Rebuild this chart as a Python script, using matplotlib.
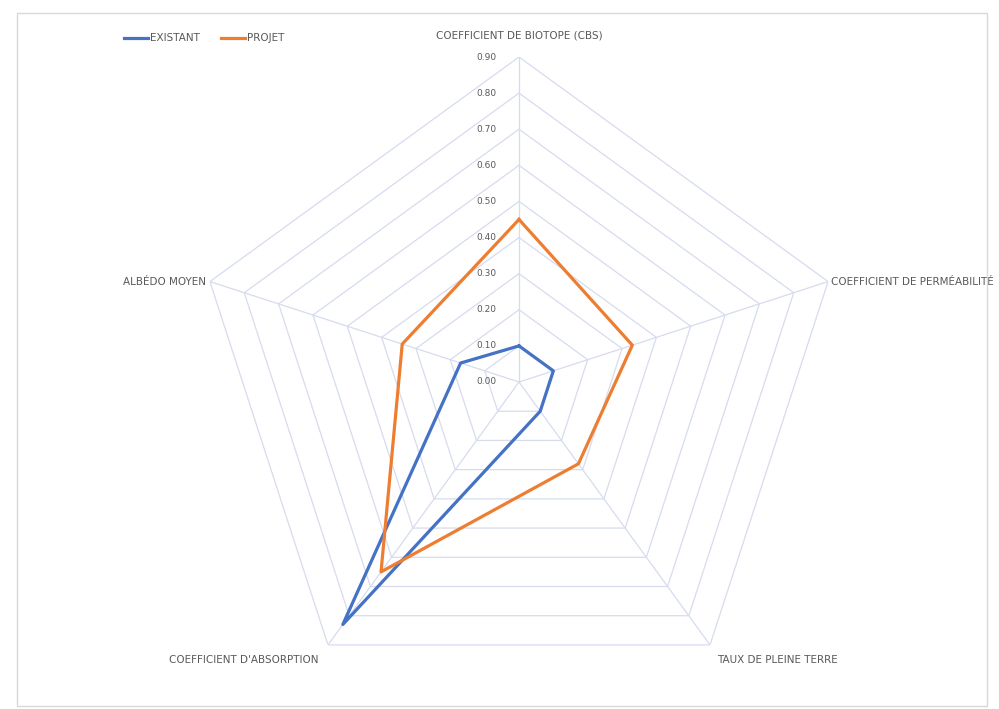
import numpy as np
import matplotlib
matplotlib.use("Agg")
import matplotlib.pyplot as plt
from matplotlib import transforms
from matplotlib.patches import Rectangle

categories = ["COEFFICIENT DE BIOTOPE (CBS)", "COEFFICIENT DE PERMÉABILITÉ",
              "TAUX DE PLEINE TERRE", "COEFFICIENT D'ABSORPTION", "ALBÉDO MOYEN"]
existant = [0.10, 0.10, 0.10, 0.83, 0.17]
projet = [0.45, 0.33, 0.28, 0.65, 0.34]
tick_values = [0.0, 0.1, 0.2, 0.3, 0.4, 0.5, 0.6, 0.7, 0.8, 0.9]
tick_labels = ["0.00", "0.10", "0.20", "0.30", "0.40", "0.50", "0.60", "0.70", "0.80", "0.90"]

W, H = 999, 709
fig = plt.figure(figsize=(W / 100, H / 100), dpi=100)
fig.patch.set_facecolor("white")

cx, cy, R = 519, 382, 325
ax = fig.add_axes([(cx - R) / W, 1 - (cy + R) / H, 2 * R / W, 2 * R / H], projection="polar")
ax.set_theta_zero_location("N")
ax.set_theta_direction(-1)
ax.set_ylim(0, 0.9)
ax.grid(False)
ax.spines["polar"].set_visible(False)
ax.set_xticks([])
ax.set_yticks([])
ax.patch.set_alpha(0)

n = len(categories)
angles = np.linspace(0, 2 * np.pi, n, endpoint=False)
ang_c = np.concatenate([angles, angles[:1]])

gcol = "#d6dcee"
for r in tick_values[1:]:
    ax.plot(ang_c, [r] * (n + 1), color=gcol, lw=0.9, zorder=1)
for a in angles:
    ax.plot([a, a], [0, 0.9], color=gcol, lw=0.9, zorder=1)

ax.plot(ang_c, existant + existant[:1], color="#4472C4", lw=2.3, zorder=3, label="EXISTANT")
ax.plot(ang_c, projet + projet[:1], color="#ED7D31", lw=2.3, zorder=3, label="PROJET")

tcol = "#595959"
off = transforms.offset_copy(ax.transData, fig=fig, x=-16, y=0, units="points")
for v, lab in zip(tick_values, tick_labels):
    ax.text(0, v, lab, transform=off, ha="right", va="center", fontsize=6.5, color=tcol)

# category labels
specs = [
    (0, 0, 12, "center", "bottom"),
    (1, 2, 0, "left", "center"),
    (2, 5, -7, "left", "top"),
    (3, -7, -7, "right", "top"),
    (4, -3, 0, "right", "center"),
]
for i, dx, dy, ha, va in specs:
    tr = transforms.offset_copy(ax.transData, fig=fig, x=dx, y=dy, units="points")
    ax.text(angles[i], 0.9, categories[i], transform=tr, ha=ha, va=va,
            fontsize=7.5, color=tcol)

leg = fig.legend(loc="upper left", bbox_to_anchor=(0.115, 0.966), ncol=2, frameon=False,
                 fontsize=7.5, handlelength=2.3, handletextpad=0.2, columnspacing=2.0)
for t in leg.get_texts():
    t.set_color(tcol)

fig.patches.append(Rectangle((17 / W, 1 - 706 / H), (987 - 17) / W, (706 - 13) / H,
                             transform=fig.transFigure, fill=False, edgecolor="#d9d9d9", lw=1))

fig.savefig("out.png", dpi=100, facecolor="white")
